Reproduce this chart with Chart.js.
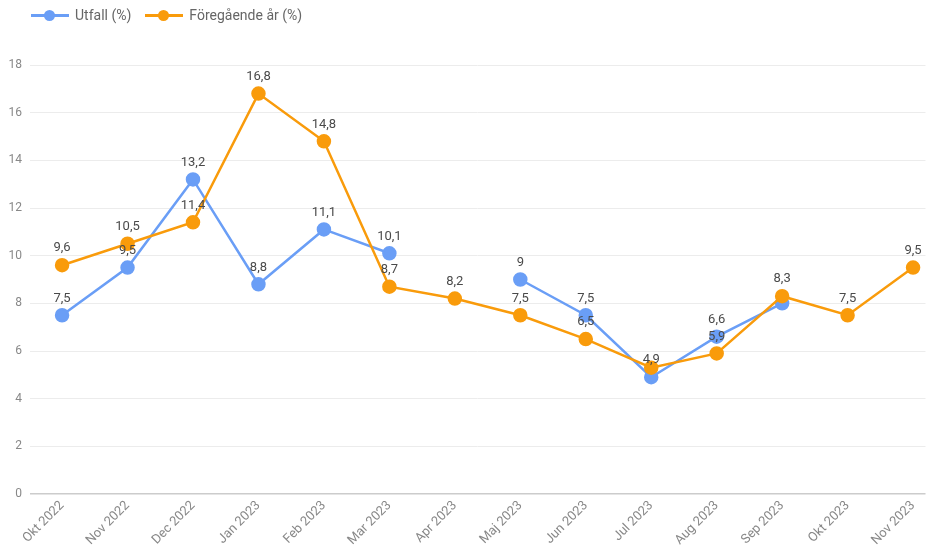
<!DOCTYPE html>
<html>
<head>
<meta charset="utf-8">
<script src="https://cdn.jsdelivr.net/npm/chart.js@4/dist/chart.umd.min.js"></script>
<style>
  html, body { margin: 0; padding: 0; background: #fff; }
  #wrap { position: relative; width: 934px; height: 550px; }
  #legend { position: absolute; top: 7px; left: 31px; font: 14px Roboto, sans-serif; color: #666; display: flex; gap: 14px; }
  .item { display: flex; align-items: center; }
  .mk { position: relative; width: 38px; height: 14px; margin-right: 6px; }
  .mk .ln { position: absolute; left: 0; right: 0; top: 6px; height: 3px; }
  .mk .dt { position: absolute; left: 13px; top: 2px; width: 11px; height: 11px; border-radius: 50%; }
  canvas { position: absolute; left: 0; top: 0; }
</style>
</head>
<body>
<div id="wrap">
  <canvas id="c" width="934" height="550"></canvas>
  <div id="legend"></div>
</div>
<script>
const categories = ["Okt 2022","Nov 2022","Dec 2022","Jan 2023","Feb 2023","Mar 2023","Apr 2023","Maj 2023","Jun 2023","Jul 2023","Aug 2023","Sep 2023","Okt 2023","Nov 2023"];
const utfall = [7.5, 9.5, 13.2, 8.8, 11.1, 10.1, null, 9, 7.5, 4.9, 6.6, 8.0, null, null];
const foregaende = [9.6, 10.5, 11.4, 16.8, 14.8, 8.7, 8.2, 7.5, 6.5, 5.3, 5.9, 8.3, 7.5, 9.5];
const seriesNames = ["Utfall (%)", "Föregående år (%)"];
const yTicks = [0, 2, 4, 6, 8, 10, 12, 14, 16, 18];
// labels hidden in the reference because they overlap: [datasetIndex, categoryIndex]
const hiddenLabels = [[0, 11], [1, 9]];

const BLUE = '#6a9ef6';
const ORANGE = '#f99b0b';

const legend = document.getElementById('legend');
[[seriesNames[0], BLUE], [seriesNames[1], ORANGE]].forEach(([name, col]) => {
  const it = document.createElement('div');
  it.className = 'item';
  it.innerHTML = '<div class="mk"><div class="ln" style="background:' + col + '"></div><div class="dt" style="background:' + col + '"></div></div><span>' + name + '</span>';
  legend.appendChild(it);
});

const fmt = v => String(v).replace('.', ',');

const labelPlugin = {
  id: 'vlabels',
  afterDatasetsDraw(chart) {
    const ctx = chart.ctx;
    ctx.save();
    ctx.font = '13px Roboto, sans-serif';
    ctx.fillStyle = '#4a4a4a';
    ctx.textAlign = 'center';
    ctx.textBaseline = 'middle';
    chart.data.datasets.forEach((ds, di) => {
      const meta = chart.getDatasetMeta(di);
      meta.data.forEach((pt, i) => {
        const p = ds.data[i];
        if (!p || p.y === null || p.y === undefined) return;
        if (hiddenLabels.some(h => h[0] === di && h[1] === i)) return;
        ctx.fillText(fmt(p.y), pt.x, pt.y - 17);
      });
    });
    ctx.restore();
  }
};

const toXY = arr => arr.map((v, i) => ({ x: i, y: v }));

new Chart(document.getElementById('c'), {
  type: 'line',
  data: {
    datasets: [
      { label: seriesNames[0], data: toXY(utfall), borderColor: BLUE, backgroundColor: BLUE,
        borderWidth: 2.5, pointRadius: 6, pointHoverRadius: 6, spanGaps: false, order: 1, tension: 0 },
      { label: seriesNames[1], data: toXY(foregaende), borderColor: ORANGE, backgroundColor: ORANGE,
        borderWidth: 2.5, pointRadius: 6, pointHoverRadius: 6, spanGaps: false, order: 0, tension: 0 }
    ]
  },
  options: {
    responsive: false,
    animation: false,
    layout: { padding: { top: 65, left: 0, right: 0, bottom: 0 } },
    plugins: { legend: { display: false }, tooltip: { enabled: false } },
    scales: {
      x: {
        type: 'linear',
        min: -0.49,
        max: 13.19,
        afterBuildTicks: s => { s.ticks = categories.map((c, i) => ({ value: i })); },
        afterFit: s => { s.height = 56; },
        ticks: {
          autoSkip: false,
          maxRotation: 45, minRotation: 45,
          color: '#888',
          font: { family: 'Roboto, sans-serif', size: 13 },
          padding: 4,
          callback: v => categories[v]
        },
        grid: { display: false, drawTicks: false },
        border: { display: false }
      },
      y: {
        min: 0, max: 18,
        afterBuildTicks: s => { s.ticks = yTicks.map(v => ({ value: v })); },
        afterFit: s => { s.width = 30; },
        ticks: {
          color: '#888',
          font: { family: 'Roboto, sans-serif', size: 12 },
          padding: 8
        },
        grid: {
          color: c => c.tick && c.tick.value === 0 ? '#cccccc' : '#ececec',
          lineWidth: c => c.tick && c.tick.value === 0 ? 1.5 : 1,
          drawTicks: false
        },
        border: { display: false }
      }
    }
  },
  plugins: [labelPlugin]
});
</script>
</body>
</html>
